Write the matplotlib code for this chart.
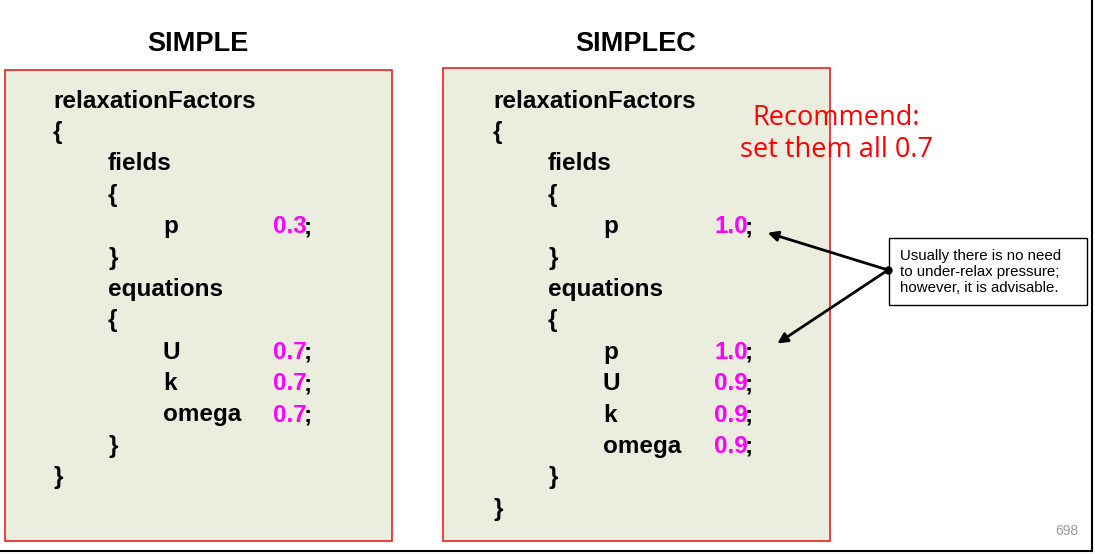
import matplotlib.pyplot as plt
from matplotlib.patches import Rectangle

# lines of each dictionary: (indent level, key, value)
simple_lines = [(0, "relaxationFactors", None), (0, "{", None), (1, "fields", None), (1, "{", None),
                (2, "p", "0.3"), (1, "}", None), (1, "equations", None), (1, "{", None),
                (2, "U", "0.7"), (2, "k", "0.7"), (2, "omega", "0.7"), (1, "}", None), (0, "}", None)]
simplec_lines = [(0, "relaxationFactors", None), (0, "{", None), (1, "fields", None), (1, "{", None),
                 (2, "p", "1.0"), (1, "}", None), (1, "equations", None), (1, "{", None),
                 (2, "p", "1.0"), (2, "U", "0.9"), (2, "k", "0.9"), (2, "omega", "0.9"),
                 (1, "}", None), (0, "}", None)]
titles = ["SIMPLE", "SIMPLEC"]
note = "Usually there is no need\nto under-relax pressure;\nhowever, it is advisable."
recommend = "Recommend:\nset them all 0.7"
page_no = "698"

fig = plt.figure(figsize=(10.95, 5.54), dpi=100)
ax = fig.add_axes([0, 0, 1, 1])
ax.set_xlim(0, 1095)
ax.set_ylim(554, 0)
ax.axis("off")

fnt = "Liberation Sans"
fs = 17.5
panels = [(5, 70, 387, 471, 53, 273, 198, simple_lines),
          (443, 68, 387, 473, 493, 714, 636, simplec_lines)]
for (bx, by, bw, bh, tx, vx, cx, lines), title in zip(panels, titles):
    ax.add_patch(Rectangle((bx, by), bw, bh, facecolor="#ebeedf", edgecolor="#e8211f", lw=1.2))
    ax.text(cx, 44, title, ha="center", va="center", fontsize=19.5, fontweight="bold", family=fnt)
    for i, (lvl, key, val) in enumerate(lines):
        y = 101 + i * 31.4
        ax.text(tx + lvl * 55, y, key, ha="left", va="center", fontsize=fs, fontweight="bold", family=fnt)
        if val is not None:
            t = ax.text(vx, y, val, ha="left", va="center", fontsize=fs, fontweight="bold",
                        family=fnt, color="#ff00ff")
            ax.annotate(";", xycoords=t, xy=(1, 0.5), xytext=(-2, 0), textcoords="offset points",
                        va="center", ha="left", fontsize=fs, fontweight="bold", family=fnt)

ax.text(836, 134, recommend, ha="center", va="center", fontsize=19.5, color="#ff0000",
        family="Open Sans", linespacing=1.2)

ax.add_patch(Rectangle((889, 238), 198, 67, facecolor="white", edgecolor="black", lw=1))
ax.text(900, 272, note, ha="left", va="center", fontsize=10.8, family=fnt, linespacing=1.2)
for tgt in [(765, 232), (775, 345)]:
    ax.annotate("", xy=tgt, xytext=(888, 270),
                arrowprops=dict(arrowstyle="-|>", color="black", lw=2, mutation_scale=15))
ax.plot(888, 270, "o", color="black", ms=5)

ax.text(1067, 531, page_no, ha="center", va="center", fontsize=10, color="#999999", family=fnt)
ax.plot([1092, 1092], [0, 551], color="black", lw=1.5)
ax.plot([0, 1092], [551, 551], color="black", lw=1.5)

fig.savefig("out.png", dpi=100)
